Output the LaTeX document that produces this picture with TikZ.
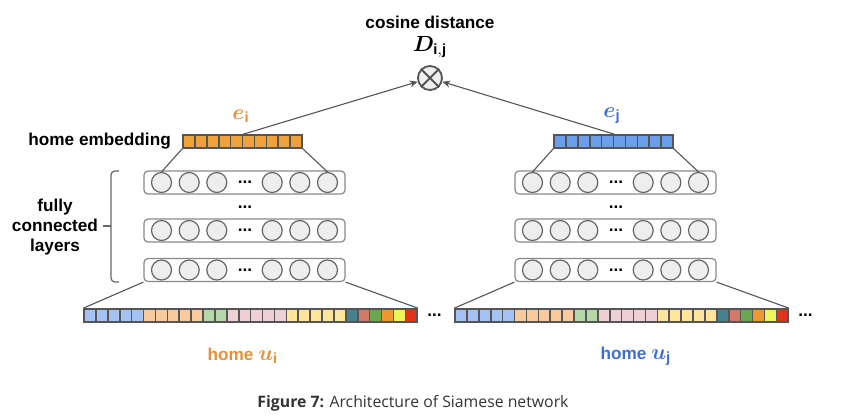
\documentclass[tikz,border=0pt]{standalone}
\usepackage{fontspec}
\usepackage{amsmath,bm}
\setmainfont{Liberation Sans}
\newfontfamily\capfont{Open Sans}
\usetikzlibrary{arrows.meta,calc,positioning}
\definecolor{embor}{HTML}{F0A23A}
\definecolor{embbl}{HTML}{6D9EEB}
\definecolor{txtor}{HTML}{E69138}
\definecolor{txtbl}{HTML}{3C6FD6}
\definecolor{cblue}{HTML}{A4C2F4}
\definecolor{cpeach}{HTML}{F9CB9C}
\definecolor{cgreen}{HTML}{B6D7A8}
\definecolor{cpink}{HTML}{EFD0D4}
\definecolor{cyellow}{HTML}{FFE599}
\definecolor{cteal}{HTML}{45818E}
\definecolor{cbrick}{HTML}{D07A6A}
\definecolor{cgrass}{HTML}{6AA84F}
\definecolor{corange}{HTML}{F0982F}
\definecolor{clime}{HTML}{EEF55A}
\definecolor{cred}{HTML}{E5321F}
\definecolor{edge}{HTML}{555555}
\definecolor{boxgray}{HTML}{888888}
\definecolor{ringgray}{HTML}{666666}
\definecolor{neuronfill}{HTML}{EEEEEE}
\definecolor{capgray}{HTML}{333333}
\newcommand{\mathbig}[1]{{\fontsize{10.5}{12}\selectfont$#1$}}
\tikzset{
  lbl/.style={font=\bfseries\fontsize{8.6}{10}\selectfont, inner sep=0pt},
  cell/.style={draw=edge, line width=0.8pt, minimum width=5.95pt, minimum height=6.5pt, inner sep=0pt, fill=#1},
  layerbox/.style={draw=boxgray, rounded corners=2pt, line width=0.6pt, minimum width=100.5pt, minimum height=11.5pt, inner sep=0pt},
  neuron/.style={circle, draw=ringgray, fill=neuronfill, line width=0.6pt, minimum size=10pt, inner sep=0pt},
  wire/.style={draw=edge, line width=0.55pt},
}

\begin{document}
\begin{tikzpicture}[x=0.5pt,y=-0.5pt]
			\useasboundingbox (0,0) rectangle (845,419);
			% comparison on top
			\node[lbl] (cosd) at (430,22) {cosine distance};
			\node[lbl] (dij) at (430,47) {\mathbig{\bm{D}_{\mathbf{i,j}}}};
			\node[circle, draw=edge, fill=neuronfill, line width=0.9pt, minimum size=12pt, inner sep=0pt] (cmp) at (430,78) {};
			\draw[edge, line width=0.9pt] (cmp.north west) -- (cmp.south east) (cmp.north east) -- (cmp.south west);
			% the two towers
			\foreach \s/\dx/\ecol/\tcol/\lx in {i/0/embor/txtor/243, j/371/embbl/txtbl/636} {
				% home embedding
				\foreach \k in {0,...,9}
					\node[cell=\ecol] (e\s-\k) at (\dx+188.95+11.9*\k,141.5) {};
				\node[lbl, text=\tcol] (lab\s) at (\dx+241,116) {\mathbig{\bm{e}_{\mathbf{\s}}}};
				% fully connected layers
				\foreach \r/\y in {1/182.5, 2/230.5, 3/270} {
					\node[layerbox] (L\s-\r) at (\dx+244.5,\y) {};
					\foreach \c/\o in {1/-83, 2/-55.3, 3/-27.7, 5/27.7, 6/55.3, 7/83}
						\node[neuron] (n\s-\r-\c) at (\dx+244.5+\o,\y) {};
					\node[lbl] (d\s-\r) at (\dx+245,\y) {...};
				}
				\node[lbl] (vd\s) at (\dx+245,207) {...};
				% input features
				\foreach \cc [count=\k from 0] in {cblue,cblue,cblue,cblue,cblue,cpeach,cpeach,cpeach,cpeach,cpeach,cgreen,cgreen,cpink,cpink,cpink,cpink,cpink,cyellow,cyellow,cyellow,cyellow,cyellow,cteal,cbrick,cgrass,corange,clime,cred}
					\node[cell=\cc] (u\s-\k) at (\dx+89.95+11.9*\k,315.5) {};
				\node[lbl, right=4.5pt of u\s-27] (ud\s) {...};
				\node[lbl, text=\tcol] (hu\s) at (\lx,356) {home \mathbig{\bm{u}_{\mathbf{\s}}}};
				% wiring
				\draw[wire] (e\s-0.south west) -- (n\s-1-1.north);
				\draw[wire] (e\s-9.south east) -- (n\s-1-7.north);
				\draw[wire] (L\s-3.south west) -- (u\s-0.north west);
				\draw[wire] (L\s-3.south east) -- (u\s-27.north east);
				\draw[wire, -{Stealth[length=4pt,width=3.5pt]}] (e\s-4.north east) -- (cmp);
			}
			% side labels
			\node[lbl, left=5.5pt of ei-0] (hemb) {home embedding};
			\draw[ringgray, line width=0.6pt, rounded corners=2pt] (119,171) -- (111,171) -- (111,282) -- (119,282);
			\draw[ringgray, line width=0.6pt] (111,226) -- (103,226);
			\node[lbl, align=center] (fcl) at (55,227) {fully\\connected\\layers};
			% caption
			\node[font=\capfont\fontsize{7.9}{9}\selectfont, text=capgray] (cap) at (413,403) {\textbf{Figure 7:} Architecture of Siamese network};
		\end{tikzpicture}
\end{document}
